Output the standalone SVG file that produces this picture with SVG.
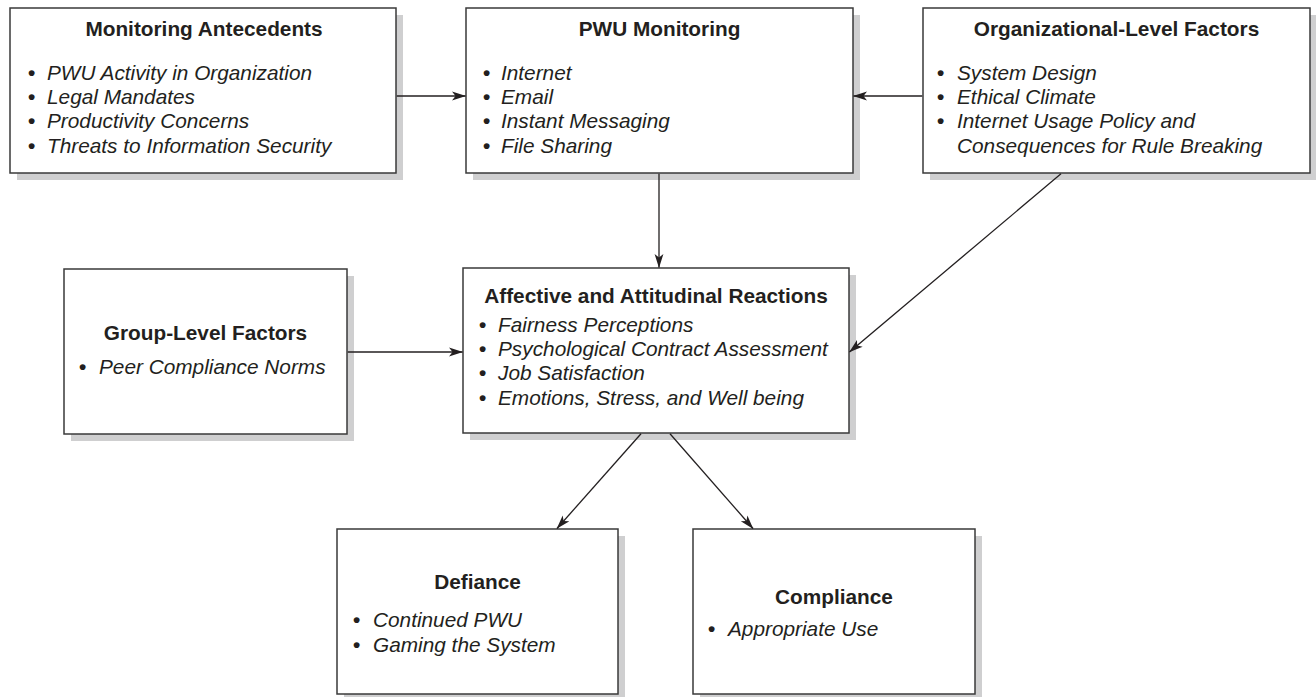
<svg xmlns="http://www.w3.org/2000/svg" width="1316" height="697" viewBox="0 0 1316 697">
  <defs>
    <marker id="arrow" viewBox="0 0 14 10" refX="13.5" refY="5" markerWidth="14" markerHeight="10" markerUnits="userSpaceOnUse" orient="auto">
      <path d="M0,0.6 L14,5 L0,9.4 L3.5,5 Z" fill="#231f20"/>
    </marker>
  </defs>
  <style>
    .shadow { fill: #cfcfd0; }
    .box { fill: #ffffff; stroke: #3a3a3a; stroke-width: 1.5; }
    .title { font-family: "Liberation Sans", Arial, sans-serif; font-weight: bold; font-size: 20.8px; fill: #231f20; text-anchor: middle; }
    .item { font-family: "Liberation Sans", Arial, sans-serif; font-style: italic; font-size: 20.8px; fill: #231f20; }
    .b { font-style: normal; font-weight: bold; }
    .link { fill: none; stroke: #231f20; stroke-width: 1.3; marker-end: url(#arrow); }
  </style>
  <rect width="1316" height="697" fill="#ffffff"/>

  <!-- Monitoring Antecedents -->
  <g id="monitoring-antecedents">
    <rect class="shadow" x="17" y="15" width="386" height="165"/>
    <rect class="box" x="10" y="8" width="386" height="165"/>
    <text class="title" x="204" y="36">Monitoring Antecedents</text>
    <text class="item" y="80"><tspan class="b" x="28">•</tspan><tspan x="47">PWU Activity in Organization</tspan></text>
    <text class="item" y="104"><tspan class="b" x="28">•</tspan><tspan x="47">Legal Mandates</tspan></text>
    <text class="item" y="128"><tspan class="b" x="28">•</tspan><tspan x="47">Productivity Concerns</tspan></text>
    <text class="item" y="153"><tspan class="b" x="28">•</tspan><tspan x="47">Threats to Information Security</tspan></text>
  </g>

  <!-- PWU Monitoring -->
  <g id="pwu-monitoring">
    <rect class="shadow" x="473" y="15" width="387" height="165"/>
    <rect class="box" x="466" y="8" width="387" height="165"/>
    <text class="title" x="659.5" y="36">PWU Monitoring</text>
    <text class="item" y="80"><tspan class="b" x="483">•</tspan><tspan x="501">Internet</tspan></text>
    <text class="item" y="104"><tspan class="b" x="483">•</tspan><tspan x="501">Email</tspan></text>
    <text class="item" y="128"><tspan class="b" x="483">•</tspan><tspan x="501">Instant Messaging</tspan></text>
    <text class="item" y="153"><tspan class="b" x="483">•</tspan><tspan x="501">File Sharing</tspan></text>
  </g>

  <!-- Organizational-Level Factors -->
  <g id="organizational-level-factors">
    <rect class="shadow" x="930" y="15" width="387" height="165"/>
    <rect class="box" x="923" y="8" width="387" height="165"/>
    <text class="title" x="1116.5" y="36">Organizational-Level Factors</text>
    <text class="item" y="80"><tspan class="b" x="937">•</tspan><tspan x="957">System Design</tspan></text>
    <text class="item" y="104"><tspan class="b" x="937">•</tspan><tspan x="957">Ethical Climate</tspan></text>
    <text class="item" y="128"><tspan class="b" x="937">•</tspan><tspan x="957">Internet Usage Policy and</tspan></text>
    <text class="item" x="957" y="153">Consequences for Rule Breaking</text>
  </g>

  <!-- Group-Level Factors -->
  <g id="group-level-factors">
    <rect class="shadow" x="71" y="276" width="283" height="165"/>
    <rect class="box" x="64" y="269" width="283" height="165"/>
    <text class="title" x="205.5" y="340">Group-Level Factors</text>
    <text class="item" y="374"><tspan class="b" x="79">•</tspan><tspan x="99">Peer Compliance Norms</tspan></text>
  </g>

  <!-- Affective and Attitudinal Reactions -->
  <g id="affective-attitudinal-reactions">
    <rect class="shadow" x="470" y="275" width="386" height="165"/>
    <rect class="box" x="463" y="268" width="386" height="165"/>
    <text class="title" x="656" y="303">Affective and Attitudinal Reactions</text>
    <text class="item" y="332"><tspan class="b" x="479">•</tspan><tspan x="498">Fairness Perceptions</tspan></text>
    <text class="item" y="356"><tspan class="b" x="479">•</tspan><tspan x="498">Psychological Contract Assessment</tspan></text>
    <text class="item" y="380"><tspan class="b" x="479">•</tspan><tspan x="498">Job Satisfaction</tspan></text>
    <text class="item" y="405"><tspan class="b" x="479">•</tspan><tspan x="498">Emotions, Stress, and Well being</tspan></text>
  </g>

  <!-- Defiance -->
  <g id="defiance">
    <rect class="shadow" x="344" y="536" width="281" height="165"/>
    <rect class="box" x="337" y="529" width="281" height="165"/>
    <text class="title" x="477.5" y="589">Defiance</text>
    <text class="item" y="627"><tspan class="b" x="353">•</tspan><tspan x="373">Continued PWU</tspan></text>
    <text class="item" y="652"><tspan class="b" x="353">•</tspan><tspan x="373">Gaming the System</tspan></text>
  </g>

  <!-- Compliance -->
  <g id="compliance">
    <rect class="shadow" x="700" y="536" width="282" height="165"/>
    <rect class="box" x="693" y="529" width="282" height="165"/>
    <text class="title" x="834" y="604">Compliance</text>
    <text class="item" y="636"><tspan class="b" x="708">•</tspan><tspan x="728">Appropriate Use</tspan></text>
  </g>

  <!-- Connectors -->
  <g id="connectors">
    <line class="link" x1="396.75" y1="96" x2="465.5" y2="96"/>
    <line class="link" x1="922.25" y1="96" x2="853.5" y2="96"/>
    <line class="link" x1="659" y1="173.75" x2="659" y2="267.5"/>
    <line class="link" x1="347.75" y1="352" x2="462.5" y2="352"/>
    <line class="link" x1="1061" y1="173.75" x2="849.5" y2="352"/>
    <line class="link" x1="641" y1="433.75" x2="557" y2="528.5"/>
    <line class="link" x1="670" y1="433.75" x2="753" y2="528.5"/>
  </g>
</svg>
